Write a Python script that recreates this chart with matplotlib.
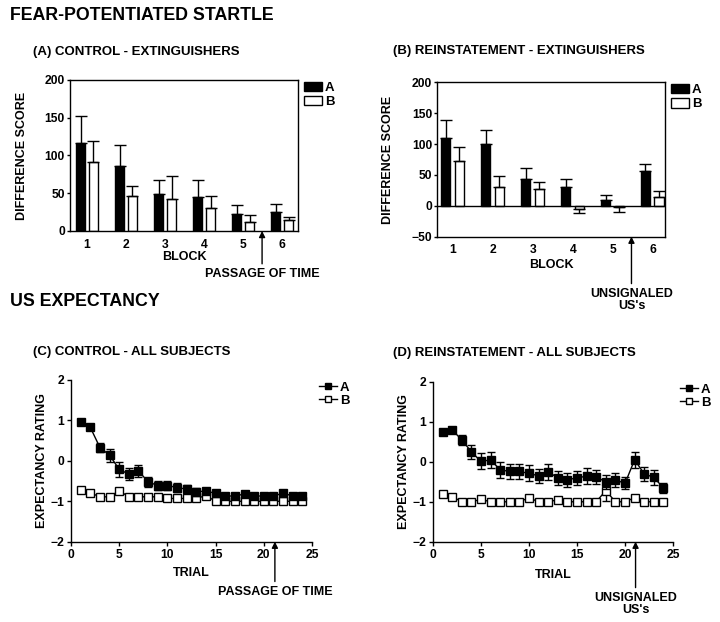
import matplotlib
matplotlib.use("Agg")
import matplotlib.pyplot as plt
import numpy as np
from matplotlib.patches import Patch
from matplotlib.lines import Line2D

plt.rcParams['font.family'] = ['Liberation Sans', 'DejaVu Sans']
plt.rcParams['font.weight'] = 'bold'
plt.rcParams['axes.labelweight'] = 'bold'
plt.rcParams['axes.linewidth'] = 1.0

# ---------------- data ----------------
blocks = [1, 2, 3, 4, 5, 6]

# (A) control - extinguishers
ctrl_bar_A = [117, 86, 49, 45, 23, 25]
ctrl_bar_A_err = [35, 28, 18, 23, 12, 11]
ctrl_bar_B = [92, 46, 43, 30, 11.5, 14]
ctrl_bar_B_err = [27, 13, 30, 16, 9.5, 5]

# (B) reinstatement - extinguishers
rein_bar_A = [110, 100, 44, 31, 10, 56]
rein_bar_A_err = [29, 22, 17, 13, 8, 12]
rein_bar_B = [72, 31, 27, -5, -2, 15]
rein_bar_B_err = [23, 18, 12, 7, 8, 9]

trials = list(range(1, 25))

# (C) control - all subjects
ctrl_exp_A = [0.97, 0.83, 0.33, 0.14, -0.21, -0.33, -0.25, -0.52, -0.61, -0.61, -0.66, -0.70,
              -0.76, -0.75, -0.80, -0.87, -0.87, -0.82, -0.87, -0.87, -0.87, -0.80, -0.87, -0.87]
ctrl_exp_A_err = [0.04, 0.07, 0.12, 0.16, 0.18, 0.15, 0.15, 0.12, 0.10, 0.12, 0.12, 0.10,
                  0.10, 0.08, 0.08, 0.04, 0.04, 0.05, 0.04, 0.04, 0.04, 0.05, 0.04, 0.04]
ctrl_exp_B = [-0.71, -0.79, -0.89, -0.89, -0.74, -0.89, -0.89, -0.89, -0.89, -0.93, -0.93, -0.93,
              -0.93, -0.86, -1.0, -1.0, -1.0, -1.0, -1.0, -1.0, -1.0, -1.0, -1.0, -1.0]
ctrl_exp_B_err = [0.07, 0.05, 0.03, 0.03, 0.08, 0.03, 0.03, 0.03, 0.03, 0.03, 0.03, 0.03,
                  0.03, 0.04, 0.0, 0.0, 0.0, 0.0, 0.0, 0.0, 0.0, 0.0, 0.0, 0.0]

# (D) reinstatement - all subjects
rein_exp_A = [0.76, 0.80, 0.55, 0.25, 0.01, 0.05, -0.20, -0.24, -0.24, -0.29, -0.35, -0.25,
              -0.40, -0.45, -0.40, -0.36, -0.38, -0.50, -0.45, -0.54, 0.05, -0.30, -0.39, -0.65]
rein_exp_A_err = [0.05, 0.05, 0.12, 0.18, 0.20, 0.20, 0.20, 0.18, 0.18, 0.20, 0.18, 0.20,
                  0.18, 0.18, 0.18, 0.20, 0.18, 0.18, 0.18, 0.15, 0.20, 0.18, 0.18, 0.12]
rein_exp_B = [-0.81, -0.87, -1.0, -1.0, -0.94, -1.0, -1.0, -1.0, -1.0, -0.90, -1.0, -1.0,
              -0.95, -1.0, -1.0, -1.0, -1.0, -0.72, -1.0, -1.0, -0.90, -1.0, -1.0, -1.0]
rein_exp_B_err = [0.07, 0.07, 0.02, 0.02, 0.04, 0.0, 0.0, 0.0, 0.0, 0.06, 0.0, 0.0,
                  0.04, 0.0, 0.0, 0.0, 0.0, 0.25, 0.0, 0.0, 0.05, 0.0, 0.0, 0.0]

series_labels = ['A', 'B']

# ---------------- figure ----------------
W, H = 720, 622
fig = plt.figure(figsize=(7.2, 6.22), dpi=100)


def px_axes(l, t, r, b):
    return fig.add_axes([l / W, 1 - b / H, (r - l) / W, (b - t) / H])


TICK = 8.7
LAB = 9.0


def one_sided(vals, errs):
    vals = np.asarray(vals, float)
    errs = np.asarray(errs, float)
    lower = np.where(vals < 0, errs, 0)
    upper = np.where(vals >= 0, errs, 0)
    return [lower, upper]


def bar_panel(ax, a, aerr, b, berr, ylim, yticks, xlim, offA, offB, width):
    x = np.asarray(blocks, float)
    ax.bar(x + offA, a, width, color='black', edgecolor='black', linewidth=1, zorder=2)
    ax.bar(x + offB, b, width, color='white', edgecolor='black', linewidth=1, zorder=2)
    ax.errorbar(x + offA, a, yerr=one_sided(a, aerr), fmt='none', ecolor='black',
                elinewidth=1, capsize=4, capthick=1, zorder=3)
    ax.errorbar(x + offB, b, yerr=one_sided(b, berr), fmt='none', ecolor='black',
                elinewidth=1, capsize=4, capthick=1, zorder=3)
    ax.set_xlim(*xlim)
    ax.set_ylim(*ylim)
    ax.set_xticks(blocks)
    ax.set_yticks(yticks)
    ax.tick_params(axis='x', length=0, pad=5.5, labelsize=TICK)
    ax.tick_params(axis='y', direction='out', length=2.5, width=1, pad=1.2, labelsize=TICK)
    ax.set_xlabel('BLOCK', fontsize=LAB, va='center')
    ax.set_ylabel('DIFFERENCE SCORE', fontsize=LAB, va='center')
    handles = [Patch(facecolor='black', edgecolor='black', linewidth=1),
               Patch(facecolor='white', edgecolor='black', linewidth=1)]
    ax.legend(handles, series_labels, loc='upper left', bbox_to_anchor=(1.025, 0.99),
              frameon=False, borderaxespad=0, borderpad=0, handlelength=1.35,
              handleheight=0.72, handletextpad=0.25, labelspacing=0.15, fontsize=9.5)


def line_panel(ax, a, aerr, b, berr):
    ax.errorbar(trials, b, yerr=berr, color='black', lw=1, marker='s', markersize=5.3,
                markerfacecolor='white', markeredgecolor='black', markeredgewidth=1,
                ecolor='black', elinewidth=1, capsize=2.8, capthick=1, zorder=2)
    ax.errorbar(trials, a, yerr=aerr, color='black', lw=1, marker='s', markersize=5.3,
                markerfacecolor='black', markeredgecolor='black', markeredgewidth=1,
                ecolor='black', elinewidth=1, capsize=2.8, capthick=1, zorder=3)
    ax.set_xlim(0, 25)
    ax.set_ylim(-2, 2)
    ax.set_xticks([0, 5, 10, 15, 20, 25])
    ax.set_yticks([-2, -1, 0, 1, 2])
    for s in ['top', 'right']:
        ax.spines[s].set_visible(False)
    ax.tick_params(axis='both', direction='out', length=3, width=1, pad=2, labelsize=TICK)
    ax.set_xlabel('TRIAL', fontsize=LAB, va='center')
    ax.set_ylabel('EXPECTANCY RATING', fontsize=LAB, va='center')
    handles = [Line2D([], [], color='black', lw=1, marker='s', markersize=4.5,
                      markerfacecolor='black', markeredgecolor='black'),
               Line2D([], [], color='black', lw=1, marker='s', markersize=4.5,
                      markerfacecolor='white', markeredgecolor='black')]
    ax.legend(handles, series_labels, loc='upper left', bbox_to_anchor=(1.03, 0.99),
              frameon=False, borderaxespad=0, borderpad=0, handlelength=1.35,
              handletextpad=0.2, labelspacing=0.05, fontsize=9.5)


def arrow_note(ax, x, text_y, text):
    ax.annotate(text, xy=(x, 0), xycoords=('data', 'axes fraction'),
                xytext=(x, text_y), textcoords=('data', 'axes fraction'),
                ha='center', va='center', fontsize=LAB, linespacing=1.05,
                annotation_clip=False,
                arrowprops=dict(arrowstyle='-|>', color='black', lw=1,
                                mutation_scale=9, shrinkA=1, shrinkB=0))


# Panel A
axA = px_axes(70, 80, 298, 231)
bar_panel(axA, ctrl_bar_A, ctrl_bar_A_err, ctrl_bar_B, ctrl_bar_B_err,
          (0, 200), [0, 50, 100, 150, 200], (0.57, 6.41), -0.16, 0.17, 0.24)
axA.xaxis.set_label_coords(0.5, -(257 - 231) / 151)
axA.yaxis.set_label_coords(-(70 - 22) / 228, 0.5)
arrow_note(axA, 5.49, -(274 - 231) / 151, 'PASSAGE OF TIME')

# Panel B
axB = px_axes(437.5, 82.3, 665, 236.7)
bar_panel(axB, rein_bar_A, rein_bar_A_err, rein_bar_B, rein_bar_B_err,
          (-50, 200), [-50, 0, 50, 100, 150, 200], (0.61, 6.31), -0.18, 0.16, 0.23)
axB.axhline(0, color='black', lw=1, zorder=4)
axB.xaxis.set_label_coords(0.5, -(265 - 236.7) / 154.4)
axB.yaxis.set_label_coords(-(437.5 - 388) / 227.5, 0.5)
arrow_note(axB, 5.47, -(300 - 236.7) / 154.4, 'UNSIGNALED\nUS\'s')

# Panel C
axC = px_axes(71, 380, 312, 541.7)
line_panel(axC, ctrl_exp_A, ctrl_exp_A_err, ctrl_exp_B, ctrl_exp_B_err)
axC.xaxis.set_label_coords(0.5, -(573 - 541.7) / 161.7)
axC.yaxis.set_label_coords(-(71 - 42) / 241, 0.5)
arrow_note(axC, 21.15, -(591.7 - 541.7) / 161.7, 'PASSAGE OF TIME')

# Panel D
axD = px_axes(433, 382, 673, 541.7)
line_panel(axD, rein_exp_A, rein_exp_A_err, rein_exp_B, rein_exp_B_err)
axD.xaxis.set_label_coords(0.5, -(575 - 541.7) / 159.7)
axD.yaxis.set_label_coords(-(433 - 404) / 240, 0.5)
arrow_note(axD, 21.1, -(604 - 541.7) / 159.7, 'UNSIGNALED\nUS\'s')

# Titles
fig.text(10 / W, 1 - 15 / H, 'FEAR-POTENTIATED STARTLE', fontsize=12.8, va='center', ha='left')
fig.text(10 / W, 1 - 301.5 / H, 'US EXPECTANCY', fontsize=12.8, va='center', ha='left')
fig.text(33 / W, 1 - 52 / H, '(A) CONTROL - EXTINGUISHERS', fontsize=9.5, va='center', ha='left')
fig.text(393 / W, 1 - 51 / H, '(B) REINSTATEMENT - EXTINGUISHERS', fontsize=9.5, va='center', ha='left')
fig.text(33 / W, 1 - 352 / H, '(C) CONTROL - ALL SUBJECTS', fontsize=9.5, va='center', ha='left')
fig.text(393 / W, 1 - 353 / H, '(D) REINSTATEMENT - ALL SUBJECTS', fontsize=9.5, va='center', ha='left')

fig.savefig('out.png', dpi=100)
